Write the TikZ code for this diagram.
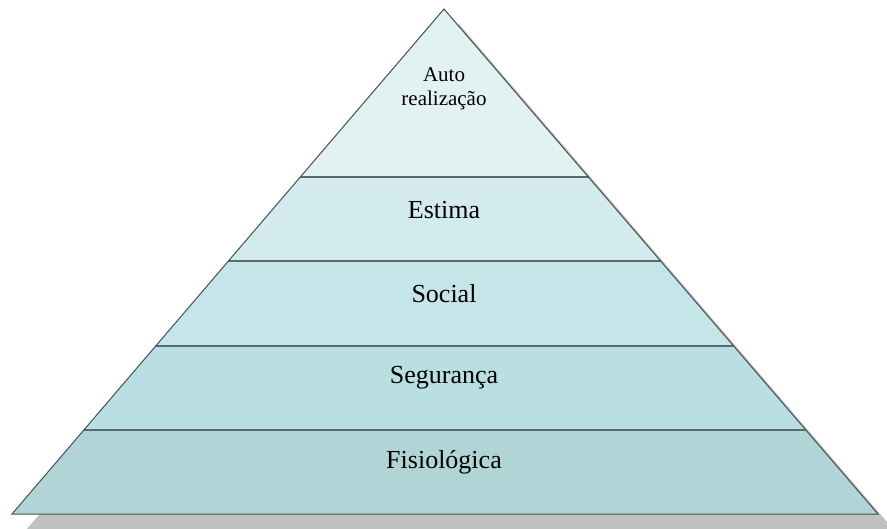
\documentclass[tikz,border=0pt]{standalone}
\usepackage{fontspec}
\setmainfont{Liberation Serif}
\usetikzlibrary{calc}
\definecolor{cTop}{RGB}{226,242,243}
\definecolor{cEst}{RGB}{212,235,238}
\definecolor{cSoc}{RGB}{198,229,232}
\definecolor{cSeg}{RGB}{186,223,226}
\definecolor{cFis}{RGB}{177,212,214}
\definecolor{cShadow}{RGB}{192,192,192}
\definecolor{cLine}{RGB}{88,108,110}
\definecolor{cEdge}{RGB}{70,80,82}
\tikzset{
  lbl/.style={font=\fontsize{26}{30}\selectfont, text=black, inner sep=0pt},
  lblsmall/.style={font=\fontsize{21}{24}\selectfont, text=black, inner sep=0pt, align=center},
  sep/.style={draw=cLine, line width=2pt},
  edge/.style={draw=cEdge, line width=1pt, line join=miter}
}
\begin{document}
\begin{tikzpicture}[x=1pt,y=1pt]
\useasboundingbox (0,0) rectangle (887,-529);
\clip (0,0) rectangle (887,-529);
\coordinate (A) at (444,-9);
\coordinate (L) at (12,-514);
\coordinate (R) at (878,-514);
% shadow
\fill[cShadow] ($(A)+(15,-15)$) -- ($(L)+(15,-15)$) -- ($(R)+(15,-15)$) -- cycle;
% band points
\foreach \t/\n in {0.3333/1,0.5/2,0.6667/3,0.8333/4}{
  \coordinate (L\n) at ($(A)!\t!(L)$);
  \coordinate (R\n) at ($(A)!\t!(R)$);
}
\fill[cTop] (A) -- (L1) -- (R1) -- cycle;
\fill[cEst] (L1) -- (L2) -- (R2) -- (R1) -- cycle;
\fill[cSoc] (L2) -- (L3) -- (R3) -- (R2) -- cycle;
\fill[cSeg] (L3) -- (L4) -- (R4) -- (R3) -- cycle;
\fill[cFis] (L4) -- (L) -- (R) -- (R4) -- cycle;
\draw[sep] (L1) -- (R1);
\draw[sep] (L2) -- (R2);
\draw[sep] (L3) -- (R3);
\draw[sep] (L4) -- (R4);
\draw[edge] (A) -- (L) -- (R) -- cycle;
% labels
\node[lblsmall] (auto) at (444,-89) {Auto\\realização};
\node[lbl] (est) at (444,-210) {Estima};
\node[lbl] (soc) at (444,-294) {Social};
\node[lbl] (seg) at (444,-378) {Segurança};
\node[lbl] (fis) at (444,-462) {Fisiológica};
\end{tikzpicture}
\end{document}
